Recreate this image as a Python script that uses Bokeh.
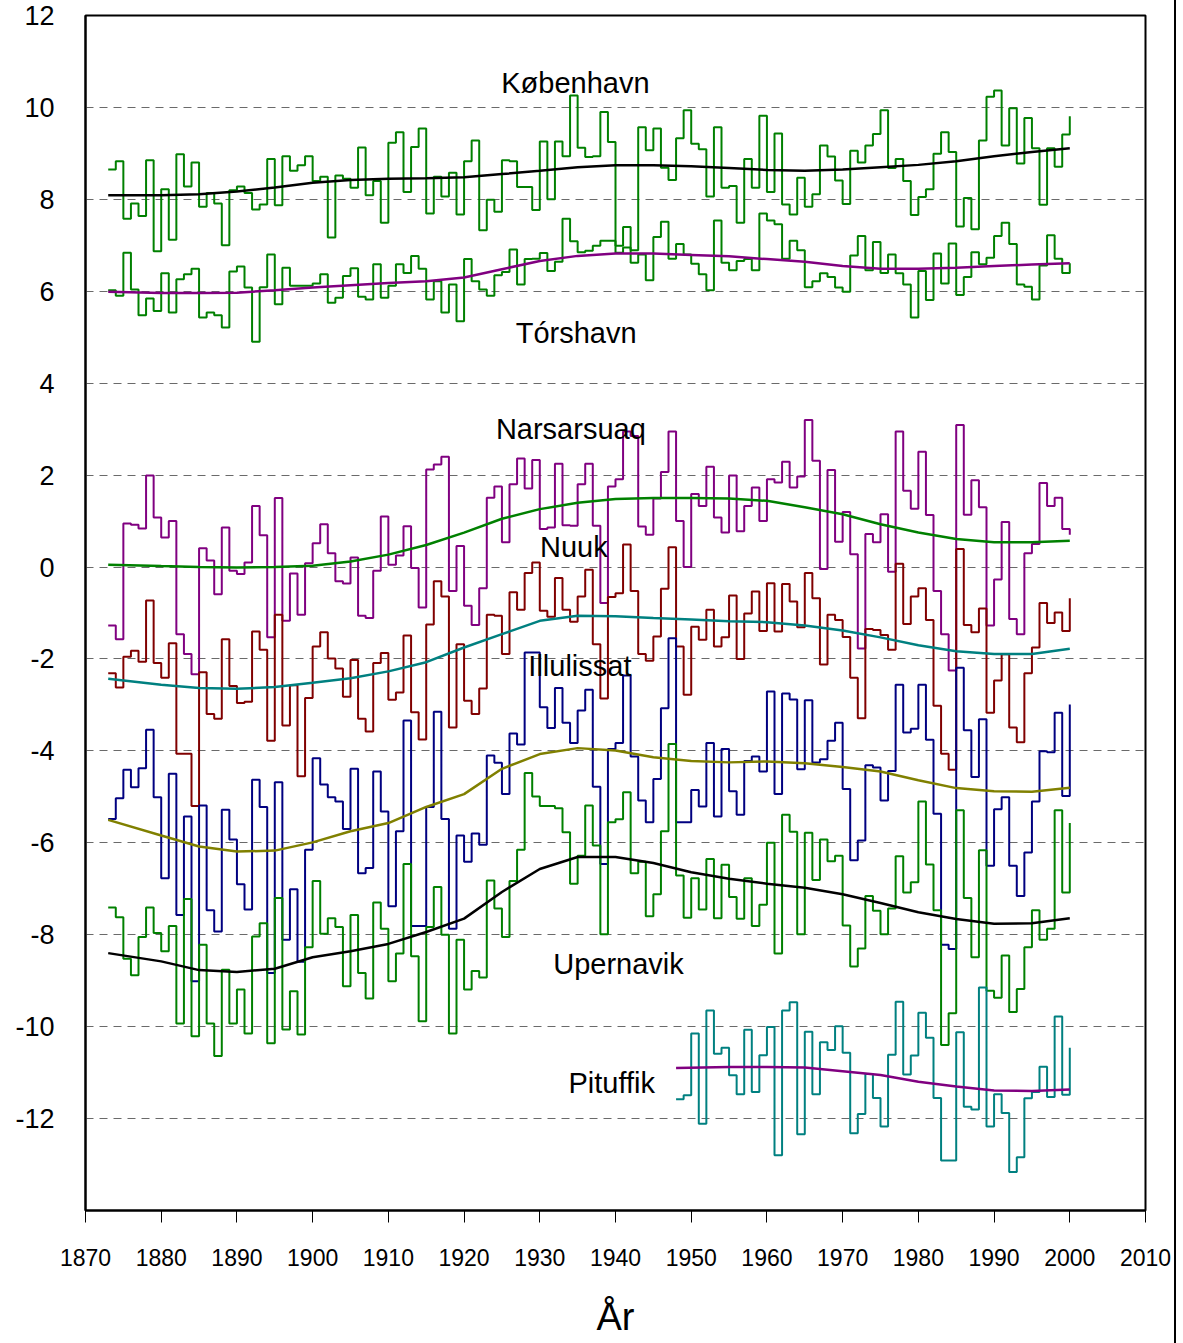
from bokeh.plotting import figure
from bokeh.models import FixedTicker, Label, Range1d
from bokeh.embed import file_html
from bokeh.resources import INLINE

# ---------------- data ----------------
years = list(range(1873, 2001))
years_pit = list(range(1948, 2001))

kobenhavn = [
    8.65, 8.83, 7.58, 7.91, 7.64, 8.85, 6.87,
    8.22, 7.12, 8.98, 8.28, 8.80, 7.84, 8.14, 7.91, 7.00, 8.20,
    8.28, 8.14, 7.78, 7.89, 8.88, 7.87, 8.94, 8.62, 8.74, 8.94,
    8.40, 8.49, 7.17, 8.52, 8.45, 8.25, 9.13, 8.09, 8.40, 7.49,
    9.23, 9.46, 8.16, 9.14, 9.54, 7.69, 8.49, 8.06, 8.58, 7.67,
    8.83, 9.28, 7.33, 7.99, 7.73, 8.85, 8.83, 8.27, 8.27, 7.77,
    9.26, 8.00, 9.26, 8.94, 10.26, 9.12, 8.92, 8.94, 9.90, 9.25,
    6.84, 6.95, 6.89, 9.57, 9.07, 9.54, 8.69, 8.42, 9.33, 9.94,
    9.21, 9.09, 8.06, 9.57, 8.25, 8.29, 7.49, 8.88, 8.25, 9.82,
    8.16, 9.43, 7.89, 7.67, 8.47, 7.84, 8.11, 9.17, 8.93, 8.41,
    7.90, 9.06, 8.80, 9.17, 9.42, 9.94, 8.68, 8.88, 8.40, 7.66,
    8.05, 8.22, 8.99, 9.46, 9.03, 7.41, 8.03, 7.35, 9.28, 10.23,
    10.37, 9.17, 9.98, 8.78, 9.77, 9.11, 7.88, 9.11, 8.71, 9.41,
    9.81,
]

torshavn = [
    6.02, 5.90, 6.84, 6.04, 5.48, 5.84, 5.57,
    6.39, 5.54, 6.26, 6.37, 6.49, 5.43, 5.54, 5.48, 5.21, 6.43,
    6.54, 6.08, 4.90, 6.09, 6.80, 5.72, 6.51, 6.12, 6.12, 6.12,
    6.17, 6.37, 5.75, 5.86, 6.33, 6.50, 5.88, 5.82, 6.59, 5.86,
    6.12, 6.59, 6.40, 6.77, 6.49, 5.82, 6.22, 5.54, 6.15, 5.35,
    6.70, 6.22, 6.04, 5.90, 6.35, 6.42, 6.91, 6.15, 6.70, 6.71,
    6.83, 6.44, 6.64, 7.58, 7.09, 6.85, 6.88, 6.99, 7.10, 7.10,
    6.99, 7.40, 6.62, 6.80, 6.24, 7.18, 7.51, 6.71, 7.03, 6.80,
    6.60, 6.37, 6.02, 7.54, 6.62, 6.46, 6.66, 6.70, 6.46, 7.69,
    7.54, 7.46, 6.71, 7.10, 6.89, 6.09, 6.22, 6.39, 6.31, 6.08,
    5.99, 6.78, 7.20, 6.46, 7.07, 6.40, 6.80, 6.39, 6.15, 5.43,
    6.44, 5.81, 6.82, 6.17, 7.04, 5.92, 6.31, 6.85, 6.59, 6.73,
    7.20, 7.49, 7.03, 6.15, 6.10, 5.82, 6.56, 7.22, 6.71, 6.40,
    6.61,
]

narsarsuaq = [
    -1.27, -1.57, 0.95, 0.92, 0.84, 1.99, 1.08,
    0.64, 1.00, -1.46, -1.89, -2.33, 0.41, 0.14, -0.59, 0.86, -0.08,
    -0.15, 0.10, 1.33, 0.69, -1.53, 1.50, -1.17, -0.14, -1.04, 0.08,
    0.52, 0.93, 0.30, -0.31, -0.36, 0.21, -1.06, -1.11, -0.08, 1.10,
    0.05, 0.25, 0.89, -0.02, -0.88, 2.12, 2.23, 2.40, -0.52, 0.46,
    -0.84, -1.26, -0.46, 1.51, 1.75, 0.54, 1.80, 2.36, 1.71, 2.33,
    0.83, 0.86, 2.25, 0.91, 0.90, 1.80, 2.25, 0.90, -0.78, 1.75,
    1.91, 2.95, 2.85, 0.88, 0.70, 1.49, 2.07, 2.95, 1.00, 0.00,
    1.59, 1.33, 2.18, 1.08, 0.75, 1.99, 0.78, 1.33, 1.73, 1.00,
    1.91, 1.84, 2.29, 1.73, 1.97, 3.20, 2.31, -0.04, 2.11, 0.55,
    1.20, 0.28, -1.77, 0.72, 0.54, 1.15, -0.10, 2.95, 1.66, 1.27,
    2.51, 1.13, -0.52, -1.46, -2.25, 3.09, 1.14, 1.89, 1.30, -1.27,
    -0.27, 0.98, -1.13, -1.46, 0.30, 0.50, 1.83, 1.33, 1.51, 0.83,
    0.70,
]

nuuk = [
    -2.31, -2.62, -1.95, -1.82, -2.06, -0.73, -2.09,
    -2.41, -1.66, -4.06, -4.06, -5.20, -2.29, -3.20, -3.30, -1.57, -2.59,
    -2.96, -2.93, -1.40, -1.80, -3.78, -1.04, -3.45, -2.57, -4.55, -2.85,
    -1.73, -1.42, -1.99, -2.21, -2.82, -2.02, -3.30, -3.58, -2.09, -1.87,
    -2.89, -2.73, -1.49, -3.16, -3.75, -1.25, -0.31, -0.64, -3.49, -1.68,
    -2.91, -3.20, -2.64, -1.04, -1.06, -1.89, -0.55, -0.93, -0.13, 0.10,
    -0.95, -1.08, -0.24, -0.93, -1.19, -0.64, -0.06, -1.68, -2.86, -0.65,
    -0.57, 0.49, -0.52, -1.89, -2.04, -1.51, -0.47, 0.43, -1.73, -2.78,
    -1.30, -1.58, -0.93, -1.73, -1.53, -0.62, -2.00, -1.01, -0.53, -1.39,
    -0.35, -1.40, -0.37, -0.75, -1.31, -0.13, -0.68, -2.12, -1.04, -1.15,
    -1.52, -2.41, -3.29, -1.35, -1.37, -1.48, -1.80, 0.07, -1.24, -0.64,
    -0.46, -1.15, -3.02, -4.06, -4.41, 0.39, -1.26, -1.42, -0.90, -3.17,
    -2.47, -1.90, -3.49, -3.81, -2.31, -1.75, -0.78, -1.22, -0.99, -1.39,
    -0.68,
]

ilulissat = [
    -5.48, -5.03, -4.41, -4.79, -4.38, -3.54, -5.01,
    -6.77, -4.50, -7.57, -5.43, -9.01, -5.19, -7.47, -7.93, -5.28, -5.93,
    -6.90, -7.45, -4.63, -5.22, -8.83, -4.68, -8.11, -7.01, -8.59, -6.15,
    -4.16, -4.73, -5.01, -5.10, -5.70, -4.39, -6.66, -6.55, -4.45, -5.32,
    -7.38, -5.75, -3.34, -7.81, -7.81, -5.22, -3.15, -5.48, -7.87, -5.84,
    -6.41, -5.80, -6.04, -4.10, -4.26, -4.94, -3.62, -3.86, -1.86, -1.86,
    -3.05, -3.50, -2.63, -3.39, -3.83, -3.12, -2.67, -4.78, -6.46, -3.96,
    -3.83, -2.36, -4.12, -5.08, -5.55, -4.61, -3.07, -1.55, -5.55, -5.55,
    -4.85, -5.21, -3.83, -5.43, -3.96, -4.88, -5.39, -4.22, -4.12, -4.45,
    -2.71, -4.94, -2.75, -2.88, -4.40, -2.90, -4.25, -4.18, -3.78, -3.39,
    -4.83, -6.38, -5.95, -4.31, -4.36, -5.08, -4.44, -2.56, -3.60, -3.52,
    -2.56, -3.76, -5.37, -8.22, -8.31, -2.19, -3.55, -4.57, -3.31, -6.50,
    -5.27, -5.01, -6.50, -7.16, -6.21, -5.10, -4.01, -4.03, -3.17, -4.98,
    -2.99,
]

upernavik = [
    -7.41, -7.62, -8.52, -8.88, -8.05, -7.41, -7.96,
    -8.36, -7.81, -9.93, -7.22, -10.21, -8.22, -9.93, -10.64, -8.76, -9.93,
    -9.19, -10.15, -8.04, -7.75, -10.36, -7.20, -10.06, -9.23, -10.17, -8.27,
    -6.83, -7.98, -7.64, -7.83, -9.12, -7.57, -8.83, -9.39, -7.30, -7.87,
    -9.01, -8.41, -6.46, -8.47, -9.88, -7.83, -6.96, -8.00, -10.15, -8.11,
    -9.19, -8.79, -8.93, -6.82, -7.43, -8.05, -6.83, -6.15, -4.48, -4.99,
    -5.20, -5.20, -5.25, -5.77, -6.89, -6.28, -5.19, -6.06, -7.99, -5.55,
    -5.49, -4.90, -6.66, -6.41, -7.60, -7.12, -5.75, -3.85, -6.71, -7.63,
    -6.77, -7.45, -6.35, -7.64, -6.48, -7.18, -7.65, -6.77, -7.81, -7.35,
    -6.00, -8.41, -5.39, -5.76, -7.99, -5.78, -6.81, -5.93, -6.40, -6.28,
    -7.80, -8.69, -8.30, -7.16, -7.48, -7.99, -7.43, -6.29, -7.08, -6.86,
    -5.10, -6.47, -7.47, -10.40, -9.71, -5.29, -7.20, -8.49, -6.16, -9.22,
    -9.37, -8.45, -9.68, -9.18, -8.27, -7.47, -8.11, -7.87, -5.29, -7.08,
    -5.57,
]

pituffik = [
    -11.58, -11.49,
    -10.15, -12.11, -9.65, -10.59, -10.46, -11.06, -11.47, -10.07, -11.42, -10.62,
    -10.01, -12.80, -9.65, -9.47, -12.34, -10.11, -11.47, -10.34, -10.51, -9.99,
    -10.57, -12.32, -11.90, -11.03, -11.55, -12.17, -10.61, -9.46, -11.04, -10.63,
    -9.70, -10.24, -11.55, -12.91, -12.91, -10.12, -11.74, -11.80, -9.15, -12.17,
    -11.47, -11.88, -13.16, -12.84, -11.56, -11.42, -10.87, -11.53, -9.78, -11.48,
    -10.46,
]

# smoothed curves, read at the years below
smooth_years = [1873, 1880, 1885, 1890, 1895, 1900, 1905, 1910, 1915, 1920, 1925,
                1930, 1935, 1940, 1945, 1950, 1955, 1960, 1965, 1970, 1975, 1980,
                1985, 1990, 1995, 2000]
kobenhavn_s = [8.09, 8.09, 8.11, 8.17, 8.26, 8.36, 8.42, 8.45, 8.46, 8.48, 8.55,
               8.62, 8.70, 8.74, 8.74, 8.72, 8.68, 8.64, 8.62, 8.65, 8.70, 8.75,
               8.83, 8.94, 9.03, 9.11]
torshavn_s = [5.99, 5.96, 5.96, 5.97, 6.02, 6.08, 6.13, 6.18, 6.22, 6.30, 6.48,
              6.66, 6.77, 6.82, 6.82, 6.79, 6.76, 6.70, 6.64, 6.55, 6.49, 6.49,
              6.51, 6.55, 6.58, 6.61]
narsarsuaq_s = [0.05, 0.02, 0.00, -0.01, 0.00, 0.03, 0.12, 0.27, 0.48, 0.75, 1.05,
                1.26, 1.40, 1.48, 1.50, 1.50, 1.49, 1.44, 1.30, 1.15, 0.93, 0.75,
                0.61, 0.54, 0.54, 0.57]
nuuk_s = [-2.43, -2.56, -2.63, -2.65, -2.61, -2.52, -2.42, -2.27, -2.07, -1.75, -1.46,
          -1.17, -1.06, -1.07, -1.11, -1.14, -1.18, -1.20, -1.27, -1.38, -1.53, -1.70,
          -1.83, -1.89, -1.89, -1.78]
ilulissat_s = [-5.50, -5.84, -6.08, -6.19, -6.17, -5.99, -5.75, -5.57, -5.22, -4.94, -4.39,
               -4.07, -3.94, -3.99, -4.14, -4.22, -4.25, -4.23, -4.27, -4.35, -4.45, -4.64,
               -4.81, -4.88, -4.89, -4.80]
upernavik_s = [-8.40, -8.58, -8.77, -8.81, -8.74, -8.49, -8.36, -8.20, -7.94, -7.65, -7.07,
               -6.57, -6.31, -6.31, -6.44, -6.64, -6.78, -6.89, -6.98, -7.12, -7.31, -7.51,
               -7.66, -7.76, -7.75, -7.64]
pit_smooth_years = [1948, 1955, 1960, 1965, 1970, 1975, 1980, 1985, 1990, 1995, 2000]
pituffik_s = [-10.90, -10.88, -10.88, -10.89, -10.97, -11.05, -11.20, -11.30, -11.39, -11.40, -11.37]

station_names = ["København", "Tórshavn", "Narsarsuaq", "Nuuk", "Illulissat", "Upernavik", "Pituffik"]
x_ticks = list(range(1870, 2011, 10))
y_ticks = list(range(-12, 13, 2))
x_title = "År"

# ---------------- figure ----------------
p = figure(width=1176, height=1343, output_backend="svg", toolbar_location=None,
           x_range=Range1d(1870, 2010), y_range=Range1d(-14, 12),
           min_border_left=85, min_border_right=31, min_border_top=15, min_border_bottom=133)
p.styles = {"border-right": "2px solid black"}
p.background_fill_color = "white"
p.border_fill_color = "white"
p.outline_line_color = "black"
p.outline_line_width = 2
p.outline_line_alpha = 1

p.xgrid.visible = False
p.ygrid.ticker = FixedTicker(ticks=[t for t in y_ticks if t < 12])
p.ygrid.grid_line_color = "#6a6a6a"
p.ygrid.grid_line_dash = "8 6"
p.ygrid.grid_line_width = 1

p.xaxis.ticker = FixedTicker(ticks=x_ticks)
p.yaxis.ticker = FixedTicker(ticks=y_ticks)
p.yaxis.major_label_overrides = {t: str(t) for t in y_ticks}
p.xaxis.minor_tick_line_color = None
p.yaxis.minor_tick_line_color = None
p.xaxis.major_tick_out = 12
p.xaxis.major_tick_in = 0
p.xaxis.major_tick_line_color = "black"
p.xaxis.major_tick_line_width = 1
p.xaxis.axis_line_width = 2
p.yaxis.major_tick_out = 0
p.yaxis.major_tick_in = 0
p.yaxis.axis_line_width = 2
p.xaxis.major_label_standoff = 26
p.yaxis.major_label_standoff = 31
p.xaxis.major_label_text_font = "Liberation Sans"
p.xaxis.major_label_text_font_size = "23px"
p.yaxis.major_label_text_font = "Liberation Sans"
p.yaxis.major_label_text_font_size = "27px"
p.xaxis.major_label_text_color = "black"
p.yaxis.major_label_text_color = "black"
p.xaxis.axis_label = x_title
p.xaxis.axis_label_text_font = "Liberation Sans"
p.xaxis.axis_label_text_font_size = "38px"
p.xaxis.axis_label_text_font_style = "normal"
p.xaxis.axis_label_text_color = "black"
p.xaxis.axis_label_standoff = 27

GREEN = "#008000"
PURPLE = "#800080"
MAROON = "#800000"
NAVY = "#000080"
TEAL = "#008080"
OLIVE = "#808000"
LW = 2

# yearly step series
p.step(years, kobenhavn, mode="after", line_color=GREEN, line_width=LW)
p.step(years, torshavn, mode="after", line_color=GREEN, line_width=LW)
p.step(years, narsarsuaq, mode="after", line_color=PURPLE, line_width=LW)
p.step(years, nuuk, mode="after", line_color=MAROON, line_width=LW)
p.step(years, ilulissat, mode="after", line_color=NAVY, line_width=LW)
p.step(years, upernavik, mode="after", line_color=GREEN, line_width=LW)
p.step(years_pit, pituffik, mode="after", line_color=TEAL, line_width=LW)

# smoothed curves
p.line(smooth_years, kobenhavn_s, line_color="black", line_width=2.5)
p.line(smooth_years, torshavn_s, line_color=PURPLE, line_width=2.5)
p.line(smooth_years, narsarsuaq_s, line_color=GREEN, line_width=2.5)
p.line(smooth_years, nuuk_s, line_color=TEAL, line_width=2.5)
p.line(smooth_years, ilulissat_s, line_color=OLIVE, line_width=2.5)
p.line(smooth_years, upernavik_s, line_color="black", line_width=2.5)
p.line(pit_smooth_years, pituffik_s, line_color=PURPLE, line_width=2.5)

# station labels
label_pos = [(1934.7, 10.54), (1934.8, 5.09), (1934.1, 3.0), (1934.5, 0.43),
             (1935.3, -2.15), (1940.4, -8.63), (1939.5, -11.23)]
for name, (lx, ly) in zip(station_names, label_pos):
    p.add_layout(Label(x=lx, y=ly, text=name, text_align="center", text_baseline="middle",
                       text_font="Liberation Sans", text_font_size="29px", text_color="black"))

open("out.html", "w").write(file_html(p, INLINE))
